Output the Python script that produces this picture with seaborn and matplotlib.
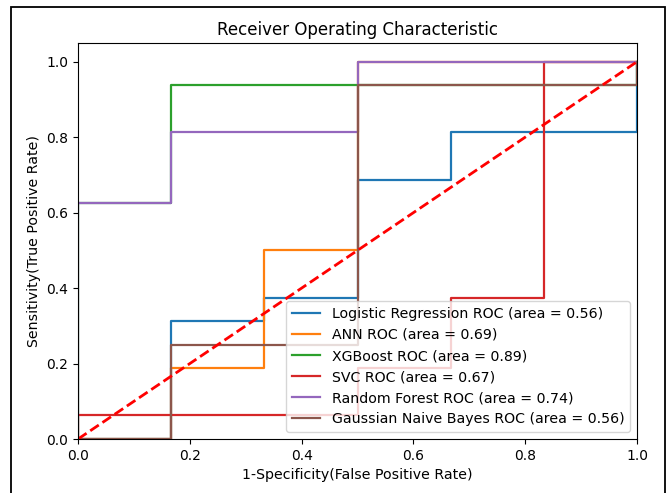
import matplotlib
matplotlib.use("Agg")
import matplotlib.pyplot as plt
from matplotlib.patches import Rectangle
import pandas as pd
import seaborn as sns

# Model names and their reported AUC values
models = ["Logistic Regression", "ANN", "XGBoost", "SVC", "Random Forest", "Gaussian Naive Bayes"]
auc_values = [0.56, 0.69, 0.89, 0.67, 0.74, 0.56]

# ROC curve points (false positive rate, true positive rate) per model
lr_fpr = [0, 1/6, 1/6, 1/3, 1/3, 0.5, 0.5, 2/3, 2/3, 1, 1]
lr_tpr = [0, 0, 0.3125, 0.3125, 0.375, 0.375, 0.6875, 0.6875, 0.8125, 0.8125, 1]

ann_fpr = [0, 1/6, 1/6, 1/3, 1/3, 0.5, 0.5, 1]
ann_tpr = [0, 0, 0.1875, 0.1875, 0.5, 0.5, 1, 1]

xgb_fpr = [0, 0, 1/6, 1/6, 1, 1]
xgb_tpr = [0, 0.625, 0.625, 0.9375, 0.9375, 1]

svc_fpr = [0, 0, 0.5, 0.5, 2/3, 2/3, 5/6, 5/6, 1]
svc_tpr = [0, 0.0625, 0.0625, 0.1875, 0.1875, 0.375, 0.375, 1, 1]

rf_fpr = [0, 0, 1/6, 1/6, 0.5, 0.5, 1]
rf_tpr = [0, 0.625, 0.625, 0.8125, 0.8125, 1, 1]

gnb_fpr = [0, 1/6, 1/6, 0.5, 0.5, 1, 1]
gnb_tpr = [0, 0, 0.25, 0.25, 0.9375, 0.9375, 1]

curves = [(lr_fpr, lr_tpr), (ann_fpr, ann_tpr), (xgb_fpr, xgb_tpr),
          (svc_fpr, svc_tpr), (rf_fpr, rf_tpr), (gnb_fpr, gnb_tpr)]

rows = []
for name, auc, (fpr, tpr) in zip(models, auc_values, curves):
    label = f"{name} ROC (area = {auc:.2f})"
    for i, (x, y) in enumerate(zip(fpr, tpr)):
        rows.append({"model": label, "order": i, "fpr": x, "tpr": y})
df = pd.DataFrame(rows)
labels = list(dict.fromkeys(df["model"]))

fig = plt.figure(figsize=(6.67, 4.93), dpi=100)
ax = fig.add_axes([0.117, 0.1095, 0.838, 0.8035])

sns.lineplot(data=df, x="fpr", y="tpr", hue="model", hue_order=labels,
             palette=sns.color_palette("tab10", len(labels)),
             estimator=None, sort=False, units="model", linewidth=1.6, ax=ax)

ax.plot([0, 1], [0, 1], "r--", linewidth=2)

ax.set_xlim(0, 1)
ax.set_ylim(0, 1.05)
ax.set_xticks([0, 0.2, 0.4, 0.6, 0.8, 1.0])
ax.set_yticks([0, 0.2, 0.4, 0.6, 0.8, 1.0])
ax.set_title("Receiver Operating Characteristic", fontsize=12)
ax.set_xlabel("1-Specificity(False Positive Rate)", fontsize=10.2)
ax.set_ylabel("Sensitivity(True Positive Rate)", fontsize=10.2)
ax.legend(loc="lower right", fontsize=10.2, title=None)

# outer frame around the figure
fig.patches.append(Rectangle((0.0165, -0.02), 0.9805, 1.006, transform=fig.transFigure,
                             fill=False, edgecolor="black", linewidth=1.3))

fig.savefig("out.png", dpi=100)
